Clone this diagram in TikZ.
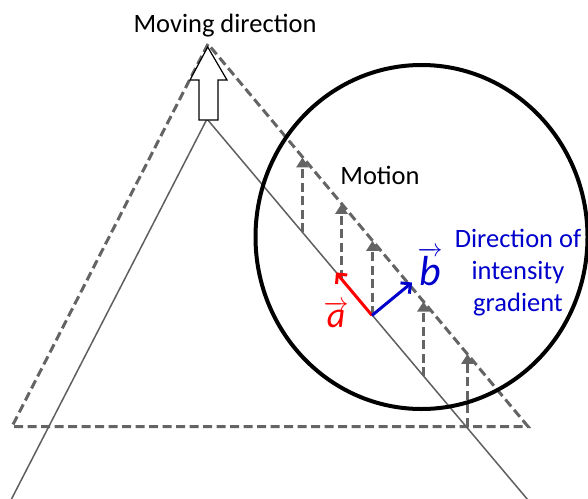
\documentclass[tikz,border=0pt]{standalone}
\usepackage{fontspec}
\setmainfont{Carlito}
\usetikzlibrary{arrows.meta}
\definecolor{dgray}{RGB}{100,100,100}
\definecolor{lgray}{RGB}{95,95,95}
\definecolor{myblue}{RGB}{0,0,204}
\definecolor{myred}{RGB}{255,0,0}
\tikzset{
  dashtri/.style={draw=dgray, line width=3pt, dash pattern=on 9pt off 4.5pt},
  solidtri/.style={draw=lgray, line width=1.5pt},
  motionarrow/.style={draw=dgray, line width=3.2pt, dash pattern=on 9pt off 4.5pt, arrows={-Triangle[length=10pt,width=12pt,fill=dgray]}},
  vecarrow/.style={line width=3pt, arrows={-Straight Barb[length=7pt,width=14pt]}},
  lbl/.style={inner sep=0pt, anchor=base, font=\fontsize{26.5}{31}\selectfont},
}
\begin{document}
\begin{tikzpicture}[x=1pt,y=-1pt]
\useasboundingbox (0,0) rectangle (588,498);
% dashed triangle
\coordinate (DA) at (208,44);
\coordinate (DL) at (12,426.5);
\coordinate (DR) at (528,426.5);
\draw[dashtri, line join=miter] (DA) -- (DL) -- (DR) -- cycle;
% solid triangle (shifted), clipped by bottom
\coordinate (SA) at (207,119);
\coordinate (SL) at (11,500);
\coordinate (SR) at (528,500);
\draw[solidtri] (SL) -- (SA) -- (SR);
% block arrow
\draw[black, line width=1.2pt, fill=white] (207.7,47) -- (227,80) -- (218,80) -- (218,120) -- (199,120) -- (199,80) -- (190,80) -- cycle;
% motion arrows
\coordinate (m1s) at (302.5,232.1); \coordinate (m1e) at (302.5,157.4);
\coordinate (m2s) at (341.5,278.5); \coordinate (m2e) at (341.5,203.8);
\coordinate (m3s) at (372.5,315.4); \coordinate (m3e) at (372.5,240.8);
\coordinate (m4s) at (423.5,376.2); \coordinate (m4e) at (423.5,301.5);
\coordinate (m5s) at (467.5,426.5); \coordinate (m5e) at (467.5,353.9);
\draw[motionarrow] (m1s) -- (m1e);
\draw[motionarrow] (m2s) -- (m2e);
\draw[motionarrow] (m3s) -- (m3e);
\draw[motionarrow] (m4s) -- (m4e);
\draw[motionarrow] (m5s) -- (m5e);
% vectors
\coordinate (O) at (372,315.4);
\coordinate (Aend) at (336,272.5);
\coordinate (Bend) at (412,282.5);
\draw[vecarrow, myred] (O) -- (Aend);
\draw[vecarrow, myblue] (O) -- (Bend);
% circle
\draw[black, line width=4pt] (421.5,237) ellipse [x radius=166, y radius=172];
% labels
\node[lbl] (mv) at (225,32) {Moving direction};
\node[lbl] (mo) at (380,184) {Motion};
\node[lbl, myblue] (g1) at (518,247) {Direction of};
\node[lbl, myblue] (g2) at (518,279) {intensity};
\node[lbl, myblue] (g3) at (518,311) {gradient};
\node[inner sep=0pt, anchor=base, myred, font=\fontsize{36}{40}\selectfont] (va) at (336,327) {$\overrightarrow{\textit{a}}$};
\node[inner sep=0pt, anchor=base, myblue, font=\fontsize{42}{48}\selectfont] (vb) at (430,285) {$\overrightarrow{\textit{b}}$};
\end{tikzpicture}
\end{document}
